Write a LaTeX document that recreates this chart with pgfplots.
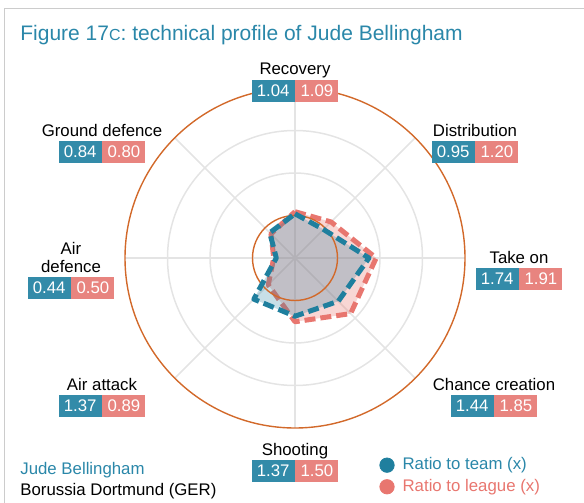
\documentclass[border=0pt]{standalone}
\usepackage{pgfplots}
\pgfplotsset{compat=1.18}
\usepackage{fontspec}
\setmainfont{Liberation Sans}

\definecolor{teamc}{HTML}{1F7F9E}
\definecolor{teambox}{HTML}{338BA9}
\definecolor{titlec}{HTML}{2A87A9}
\definecolor{leaguec}{HTML}{E8766F}
\definecolor{leaguebox}{HTML}{E8847F}
\definecolor{orangec}{HTML}{D2692A}
\definecolor{gridc}{HTML}{E4E4E4}

\newcommand\lblfont{\fontsize{8.4}{10}\selectfont}
\tikzset{
  box/.style={minimum width=21.5pt, minimum height=11pt, inner sep=0pt, text=white, font=\lblfont},
  lbl/.style={inner sep=0pt, font=\lblfont, text=black},
  dashline/.style={line width=2.5pt, dash pattern=on 5.5pt off 2.5pt, line join=round},
}
% x, y (centre of the box pair, px), label, team value, league value
\newcommand\lab[5]{%
  \node[box, fill=teambox, anchor=east] at (#1,#2) {#4};
  \node[box, fill=leaguebox, anchor=west] at (#1,#2) {#5};
  \node[lbl, anchor=base] at (#1,#2-16) {#3};}

\begin{document}
\begin{tikzpicture}
\begin{axis}[
  at={(147.5pt,-129pt)}, anchor=origin,
  x=21.25pt, y=21.25pt,
  xmin=-6.9412, xmax=6.8, ymin=-5.7647, ymax=6.0706,
  hide axis, clip=false,
  legend style={at={(rel axis cs:0.649,0.099)}, anchor=north west, draw=none, fill=none,
    font=\lblfont, row sep=-0.8pt, inner sep=0pt, column sep=2pt},
  legend cell align=left,
]
\addlegendimage{legend image code/.code={\fill[teamc] (0.1cm,0) circle[radius=3.6pt];}}
\addlegendentry{\textcolor{titlec}{Ratio to team (x)}}
\addlegendimage{legend image code/.code={\fill[leaguec] (0.1cm,0) circle[radius=3.6pt];}}
\addlegendentry{\textcolor{leaguec}{Ratio to league (x)}}

% grid
\draw[gridc, line width=0.75pt] (axis cs:0,0) circle[radius=2];
\draw[gridc, line width=0.75pt] (axis cs:0,0) circle[radius=3];
\addplot[gridc, line width=0.75pt, data cs=polar, forget plot] coordinates {(0,4) (180,4)};
\addplot[gridc, line width=0.75pt, data cs=polar, forget plot] coordinates {(45,4) (225,4)};
\addplot[gridc, line width=0.75pt, data cs=polar, forget plot] coordinates {(90,4) (270,4)};
\addplot[gridc, line width=0.75pt, data cs=polar, forget plot] coordinates {(135,4) (315,4)};
\draw[orangec, line width=0.7pt] (axis cs:0,0) circle[radius=4];

% league: fill and outline
\addplot[draw=none, fill=leaguec, fill opacity=0.3, data cs=polar, forget plot] coordinates {
  (90,1.09) (45,1.20) (0,1.91) (-45,1.85) (-90,1.50) (-135,0.89) (180,0.50) (135,0.80) (90,1.09)};
\addplot[leaguec, dashline, data cs=polar, forget plot] coordinates {
  (90,1.09) (45,1.20) (0,1.91) (-45,1.85) (-90,1.50) (-135,0.89) (180,0.50) (135,0.80) (90,1.09)};
% team: fill over the league, then outline
\addplot[draw=none, fill=teamc, fill opacity=0.25, data cs=polar, forget plot] coordinates {
  (90,1.04) (45,0.95) (0,1.74) (-45,1.44) (-90,1.37) (-135,1.37) (180,0.44) (135,0.84) (90,1.04)};
\draw[orangec, line width=0.7pt] (axis cs:0,0) circle[radius=1];
\addplot[teamc, dashline, data cs=polar, forget plot] coordinates {
  (90,1.04) (45,0.95) (0,1.74) (-45,1.44) (-90,1.37) (-135,1.37) (180,0.44) (135,0.84) (90,1.04)};
\end{axis}

\begin{scope}[x=0.5pt, y=-0.5pt]
\draw[black!20, line width=0.5pt] (584,8) -- (4,8) -- (4,503);
\node[anchor=base west, inner sep=0pt, text=titlec, font=\fontsize{10.5}{12}\selectfont]
  at (20,40) {Figure 17{\fontsize{8}{10}\selectfont C}: technical profile of Jude Bellingham};
\lab{295}{91}{Recovery}{1.04}{1.09}
\lab{475}{152}{Distribution}{0.95}{1.20}
\lab{519}{279}{Take on}{1.74}{1.91}
\lab{494}{406}{Chance creation}{1.44}{1.85}
\lab{295}{471}{Shooting}{1.37}{1.50}
\lab{102}{406}{Air attack}{1.37}{0.89}
\lab{71}{288}{defence}{0.44}{0.50}
\node[lbl, anchor=base] at (71,254) {Air};
\lab{102}{152}{Ground defence}{0.84}{0.80}
\node[anchor=base west, inner sep=0pt, text=titlec, font=\lblfont] at (20,474) {Jude Bellingham};
\node[anchor=base west, inner sep=0pt, text=black, font=\lblfont] at (20,495) {Borussia Dortmund (GER)};
\end{scope}
\pgfresetboundingbox
\path[use as bounding box] (0pt,0pt) rectangle (292pt,-251.5pt);
\end{tikzpicture}
\end{document}
